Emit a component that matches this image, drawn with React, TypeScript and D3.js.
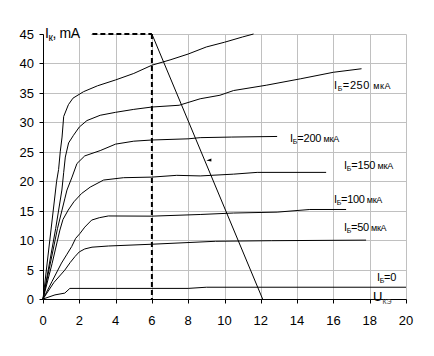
import React from "react";
import * as d3 from "d3";

// ---- data ----
const xTicks = [0, 2, 4, 6, 8, 10, 12, 14, 16, 18, 20];
const yTicks = [0, 5, 10, 15, 20, 25, 30, 35, 40, 45];

const curve300X = [0, 0.75, 0.86, 0.95, 1.05, 1.14, 1.4, 1.65, 2.23, 3, 4, 5, 6, 7, 8, 9, 10, 11, 11.6];
const curve300Y = [0, 20, 22, 25, 27.5, 31, 33, 34.1, 35.2, 36.2, 37.2, 38.3, 39.7, 40.6, 41.6, 42.8, 43.6, 44.5, 45];

const curve250X = [0, 0.7, 1.04, 1.14, 1.23, 1.41, 1.68, 2.0, 2.42, 3.15, 4, 5, 6, 7.5, 8.66, 9.75, 10.5, 12.3, 14.2, 16, 17.55];
const curve250Y = [0, 12, 18.5, 21.5, 24.1, 26.5, 27.8, 29.2, 30.3, 31.2, 31.7, 32.2, 32.6, 32.9, 34.0, 34.6, 35.4, 36.3, 37.4, 38.5, 39.1];

const curve200X = [0, 0.8, 1.2, 1.32, 1.6, 1.87, 2.3, 3.15, 4.0, 5, 6, 8, 8.66, 10.4, 12.9];
const curve200Y = [0, 12, 17, 18.5, 20.7, 23, 24.3, 25.2, 26.3, 26.8, 27.0, 27.2, 27.4, 27.5, 27.6];

const curve150X = [0, 0.5, 0.93, 1.1, 1.39, 1.7, 2.12, 2.6, 3.34, 4.44, 6, 7.37, 8.66, 10.5, 11.8, 15.6];
const curve150Y = [0, 6, 11.7, 13.5, 15.1, 16.5, 17.9, 19, 20.2, 20.6, 20.7, 21.0, 20.9, 21.2, 21.5, 21.5];

const curve100X = [0, 0.5, 1.02, 1.3, 1.58, 1.8, 2.03, 2.3, 2.68, 3.1, 3.6, 6, 8.66, 10.5, 12.9, 14.7, 16.7];
const curve100Y = [0, 3, 6.1, 7.5, 8.9, 10.3, 11.1, 12.2, 13.4, 13.8, 14.1, 14.07, 14.35, 14.6, 14.75, 15.2, 15.2];

const curve50X = [0, 0.6, 1.2, 1.5, 1.76, 2.0, 2.3, 2.7, 3.6, 6, 9.5, 12.6, 17.8];
const curve50Y = [0, 2.8, 4.9, 6.2, 7.2, 8.0, 8.5, 8.8, 9.0, 9.3, 9.8, 9.9, 10.0];

const curve0X = [0, 0.66, 1.2, 1.48, 4, 8, 9, 20];
const curve0Y = [0, 0.7, 1.0, 1.8, 1.8, 1.8, 2.0, 2.0];

const loadLineX = [6, 12.1];
const loadLineY = [45, 0];

const operatingU = 6;
const operatingI = 45;
const dashStartU = 2.72;

const ibValues = ["250", "200", "150", "100", "50", "0"];
const unitText = "мкА";

const W = 434;
const H = 356;

export default function App() {
  const x = d3.scaleLinear().domain([0, 20]).range([43, 406]);
  const y = d3.scaleLinear().domain([0, 45]).range([299, 34]);
  const line = d3
    .line<[number, number]>()
    .x((d) => x(d[0]))
    .y((d) => y(d[1]))
    .curve(d3.curveLinear);

  const zip = (xs: number[], ys: number[]) => xs.map((v, i) => [v, ys[i]] as [number, number]);
  const curves = [
    zip(curve300X, curve300Y),
    zip(curve250X, curve250Y),
    zip(curve200X, curve200Y),
    zip(curve150X, curve150Y),
    zip(curve100X, curve100Y),
    zip(curve50X, curve50Y),
    zip(curve0X, curve0Y),
  ];

  const px = (v: number) => Math.round(x(v)) + 0.5;
  const py = (v: number) => Math.round(y(v)) + 0.5;
  const x0 = px(0);
  const x20 = px(20);
  const y0 = py(0);
  const y45 = py(45);

  // label layout (pixels): x, baseline, letter spacing
  const labelLayout = [
    [334, 88.5, 0.6],
    [290, 141.5, -0.2],
    [344, 169, -0.2],
    [334, 203.3, -0.3],
    [344, 231.3, -0.3],
    [377, 280.7, -0.3],
  ];

  const font = "'Liberation Sans', Arial, sans-serif";

  return (
    <svg
      width={W}
      height={H}
      style={{ position: "absolute", left: 0, top: 0, background: "#fff" }}
      fontFamily={font}
    >
      <rect x={0} y={0} width={W} height={H} fill="#fff" />
      {/* grid */}
      {xTicks.filter((t) => t > 0).map((t) => (
        <line key={"gx" + t} x1={px(t)} x2={px(t)} y1={y45} y2={y0} stroke="#c0c0c0" strokeWidth={1} />
      ))}
      {yTicks.filter((t) => t > 0).map((t) => (
        <line key={"gy" + t} x1={x0} x2={x20} y1={py(t)} y2={py(t)} stroke="#c0c0c0" strokeWidth={1} />
      ))}
      {/* axes */}
      <line x1={x0} x2={x0} y1={y45} y2={y0} stroke="#000" />
      <line x1={x0} x2={x20} y1={y0} y2={y0} stroke="#000" />
      {yTicks.map((t) => (
        <line key={"ty" + t} x1={x0 - 4} x2={x0} y1={py(t)} y2={py(t)} stroke="#000" />
      ))}
      {xTicks.map((t) => (
        <line key={"tx" + t} x1={px(t)} x2={px(t)} y1={y0} y2={y0 + 4} stroke="#000" />
      ))}
      {/* tick labels */}
      {yTicks.map((t) => (
        <text key={"ly" + t} x={34} y={y(t) + 5} textAnchor="end" fontSize={13} fill="#000">
          {t}
        </text>
      ))}
      {xTicks.map((t) => (
        <text key={"lx" + t} x={x(t)} y={325} textAnchor="middle" fontSize={13} fill="#000">
          {t}
        </text>
      ))}
      {/* characteristic curves */}
      {curves.map((c, i) => (
        <path key={"c" + i} d={line(c) || ""} fill="none" stroke="#000" strokeWidth={1} />
      ))}
      {/* load line */}
      <path d={line(zip(loadLineX, loadLineY)) || ""} fill="none" stroke="#000" strokeWidth={1} />
      {/* operating point dashed */}
      <line
        x1={x(dashStartU)}
        x2={x(operatingU)}
        y1={y(operatingI)}
        y2={y(operatingI)}
        stroke="#000"
        strokeWidth={2}
        strokeDasharray="5,3"
      />
      <line
        x1={x(operatingU)}
        x2={x(operatingU)}
        y1={y(operatingI)}
        y2={y(0)}
        stroke="#000"
        strokeWidth={2}
        strokeDasharray="5,3"
      />
      {/* small marker */}
      <path d={`M${x(9.0)},${y(23.5)} l5,-2 l0,3 z`} fill="#000" />
      {/* axis title Ik, mA */}
      <rect x={44} y={26} width={47} height={12} fill="#fff" />
      <text x={45} y={37.7} fontSize={14} fill="#000" letterSpacing={-0.4}>
        <tspan>I</tspan>
        <tspan fontSize={10} dy={3}>к</tspan>
        <tspan dy={-3}>, mA</tspan>
      </text>
      {/* U_KE */}
      <text x={373} y={300.7} fontSize={13} fill="#000">
        <tspan>U</tspan>
        <tspan fontSize={7} dy={3.5} fill="#444">КЭ</tspan>
      </text>
      {/* curve labels */}
      {ibValues.map((v, i) => {
        const [lx, ly, ls] = labelLayout[i];
        return (
          <text key={"ib" + v} x={lx} y={ly} fontSize={11} fill="#000" letterSpacing={ls}>
            <tspan>I</tspan>
            <tspan fontSize={7} dy={2}>Б</tspan>
            <tspan dy={-2}>{"=" + v}</tspan>
            {v !== "0" ? <tspan fontSize={9}>{" " + unitText}</tspan> : null}
          </text>
        );
      })}
    </svg>
  );
}
